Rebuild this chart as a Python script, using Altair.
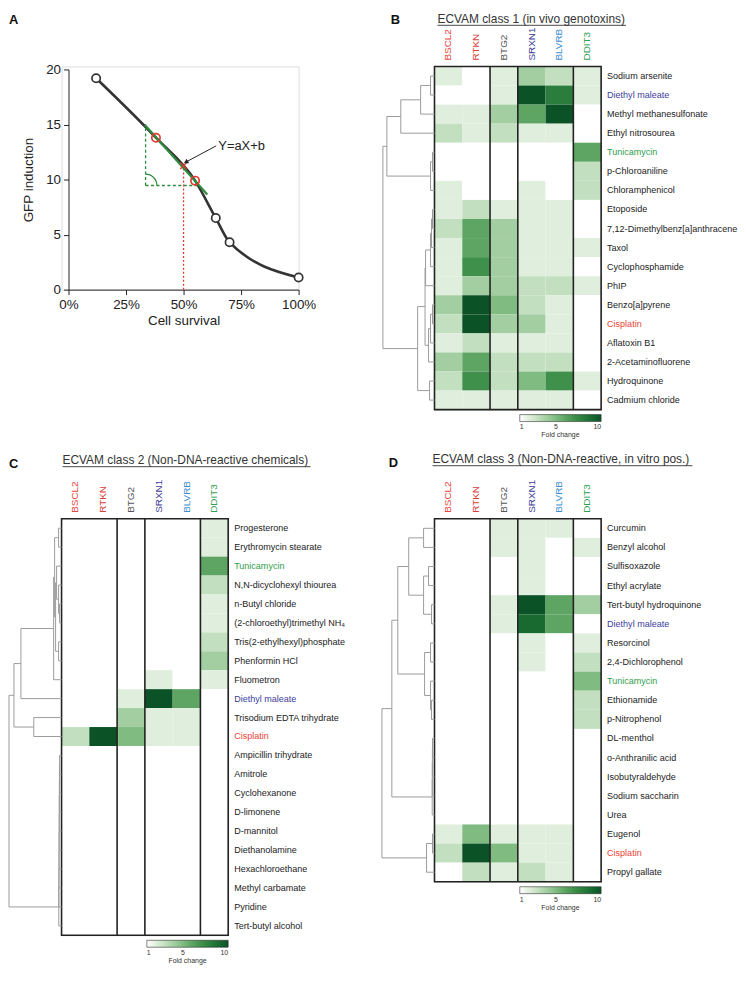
import math
import altair as alt
import pandas as pd

FONT = "Liberation Sans"

# ---------------- Panel A data ----------------
survival = [0.12, 0.38, 0.55, 0.64, 0.70, 1.00]
gfp = [19.2, 13.8, 9.9, 6.5, 4.3, 1.1]
point_kind = ["measured", "bracket", "bracket", "measured", "measured", "measured"]
tangent_x = [0.332, 0.603]
tangent_y = [14.95, 8.65]
corner_x, corner_y = 0.335, 9.46
corner_top_y = 15.0
corner_right_x = 0.56
ec50_x, ec50_y = 0.5, 11.26
arrow_tail = (0.642, 13.06)
arrow_head = (0.513, 11.62)
formula_label = "Y=aX+b"
formula_pos = (0.651, 13.06)
x_ticks = [0, 0.25, 0.5, 0.75, 1.0]
y_ticks = [0, 5, 10, 15, 20]

# ---------------- Heatmap data ----------------
genes = ["BSCL2", "RTKN", "BTG2", "SRXN1", "BLVRB", "DDIT3"]
gene_colors = ["#e8453c", "#d8403a", "#555555", "#3b3b96", "#3d8fd1", "#2fa052"]
group_starts = ["BTG2", "SRXN1", "DDIT3"]
highlight = {"Diethyl maleate": "#3d3d9c", "Tunicamycin": "#2e9d4c", "Cisplatin": "#ec3f33"}
fold_stops = [1, 2, 3, 4, 5, 6, 7, 8, 9, 10]
fold_colors = ["#ffffff", "#e0efdd", "#c2e0bf", "#a2cea1", "#80bb82",
               "#5ea564", "#3f904a", "#2a7d3c", "#186a31", "#0c5227"]

class1_chems = ["Sodium arsenite", "Diethyl maleate", "Methyl methanesulfonate", "Ethyl nitrosourea",
                "Tunicamycin", "p-Chloroaniline", "Chloramphenicol", "Etoposide",
                "7,12-Dimethylbenz[a]anthracene", "Taxol", "Cyclophosphamide", "PhIP",
                "Benzo[a]pyrene", "Cisplatin", "Aflatoxin B1", "2-Acetaminofluorene",
                "Hydroquinone", "Cadmium chloride"]
class1_values = [
    [2, 1, 2, 4, 3, 2], [1, 1, 2, 10, 8, 2], [2, 2, 4, 6, 10, 1], [3, 2, 3, 2, 2, 1],
    [1, 1, 1, 1, 1, 6], [1, 1, 1, 1, 1, 3], [2, 1, 1, 2, 1, 3], [2, 3, 2, 2, 2, 1],
    [3, 6, 4, 2, 2, 1], [2, 6, 4, 2, 2, 2], [2, 7, 4, 2, 2, 1], [2, 4, 4, 3, 3, 2],
    [4, 10, 5, 3, 2, 1], [3, 10, 4, 4, 2, 1], [2, 3, 2, 2, 2, 1], [4, 6, 3, 3, 3, 1],
    [3, 7, 3, 5, 7, 2], [2, 2, 2, 2, 2, 1]]
class1_links = [(0, 1, 4), (18, 2, 14), (19, 3, 34), (4, 5, 2), (21, 6, 4), (20, 22, 48),
                (7, 8, 2), (24, 9, 3), (25, 10, 4), (26, 11, 9), (12, 13, 2), (28, 14, 4),
                (29, 15, 6), (27, 30, 9.5), (16, 17, 5), (31, 32, 17), (23, 33, 52)]

class2_chems = ["Progesterone", "Erythromycin stearate", "Tunicamycin", "N,N-dicyclohexyl thiourea",
                "n-Butyl chloride", "(2-chloroethyl)trimethyl NH\u2084", "Tris(2-ethylhexyl)phosphate",
                "Phenformin HCl", "Fluometron", "Diethyl maleate", "Trisodium EDTA trihydrate",
                "Cisplatin", "Ampicillin trihydrate", "Amitrole", "Cyclohexanone", "D-limonene",
                "D-mannitol", "Diethanolamine", "Hexachloroethane", "Methyl carbamate",
                "Pyridine", "Tert-butyl alcohol"]
class2_values = [
    [1, 1, 1, 1, 1, 2], [1, 1, 1, 1, 1, 2], [1, 1, 1, 1, 1, 6], [1, 1, 1, 1, 1, 3],
    [1, 1, 1, 1, 1, 2], [1, 1, 1, 1, 1, 2], [1, 1, 1, 1, 1, 3], [1, 1, 1, 1, 1, 4],
    [1, 1, 1, 2, 1, 2], [1, 1, 2, 10, 6, 1], [1, 1, 4, 2, 2, 1], [3, 10, 5, 2, 2, 1],
    [1, 1, 1, 1, 1, 1], [1, 1, 1, 1, 1, 1], [1, 1, 1, 1, 1, 1], [1, 1, 1, 1, 1, 1],
    [1, 1, 1, 1, 1, 1], [1, 1, 1, 1, 1, 1], [1, 1, 1, 1, 1, 1], [1, 1, 1, 1, 1, 1],
    [1, 1, 1, 1, 1, 1], [1, 1, 1, 1, 1, 1]]
class2_links = [(0, 1, 3), (4, 5, 2), (3, 23, 3), (6, 7, 3), (2, 24, 5), (26, 25, 6),
                (22, 27, 7), (28, 8, 8), (29, 9, 41), (10, 11, 28), (30, 31, 48),
                (12, 13, 2.0), (33, 14, 2.1), (34, 15, 2.2), (35, 16, 2.3), (36, 17, 2.4),
                (37, 18, 2.5), (38, 19, 2.6), (39, 20, 2.7), (40, 21, 2.8), (32, 41, 53)]

class3_chems = ["Curcumin", "Benzyl alcohol", "Sulfisoxazole", "Ethyl acrylate",
                "Tert-butyl hydroquinone", "Diethyl maleate", "Resorcinol", "2,4-Dichlorophenol",
                "Tunicamycin", "Ethionamide", "p-Nitrophenol", "DL-menthol", "o-Anthranilic acid",
                "Isobutyraldehyde", "Sodium saccharin", "Urea", "Eugenol", "Cisplatin",
                "Propyl gallate"]
class3_values = [
    [1, 1, 2, 2, 2, 1], [1, 1, 2, 2, 1, 2], [1, 1, 1, 2, 1, 1], [1, 1, 1, 2, 1, 1],
    [1, 1, 2, 10, 6, 4], [1, 1, 2, 9, 6, 1], [1, 1, 1, 2, 1, 2], [1, 1, 1, 2, 1, 3],
    [1, 1, 1, 1, 1, 5], [1, 1, 1, 1, 1, 3], [1, 1, 1, 1, 1, 3], [1, 1, 1, 1, 1, 1],
    [1, 1, 1, 1, 1, 1], [1, 1, 1, 1, 1, 1], [1, 1, 1, 1, 1, 1], [1, 1, 1, 1, 1, 1],
    [2, 5, 2, 2, 2, 1], [3, 10, 5, 2, 2, 1], [1, 3, 2, 3, 2, 1]]
class3_links = [(0, 1, 11), (2, 3, 6), (4, 5, 3), (20, 21, 11), (19, 22, 26), (6, 7, 4),
                (9, 10, 3), (8, 25, 4), (24, 26, 10), (23, 27, 37), (11, 12, 2.0),
                (29, 13, 2.1), (30, 14, 2.2), (31, 15, 2.3), (28, 32, 43), (16, 17, 2),
                (34, 18, 8), (33, 35, 53)]


def dendro_segments(links, n):
    pos = {i: i + 0.5 for i in range(n)}
    hgt = {i: 0.0 for i in range(n)}
    segs = []
    for k, (a, b, h) in enumerate(links):
        node = n + k
        segs.append((h, h, pos[a], pos[b]))
        segs.append((hgt[a], h, pos[a], pos[a]))
        segs.append((hgt[b], h, pos[b], pos[b]))
        pos[node] = (pos[a] + pos[b]) / 2
        hgt[node] = h
    return pd.DataFrame(segs, columns=["h1", "h2", "p1", "p2"])


def one(**kw):
    return pd.DataFrame({k: [v] for k, v in kw.items()})


def heat_panel(chems, values, links, letter, letter_xy, title, title_x, title_y, title_w,
               H, dendro_w, W=168):
    n = len(chems)
    rows = []
    for c, vals in zip(chems, values):
        for g, v in zip(genes, vals):
            rows.append({"chem": c, "gene": g, "fold": v})
    df = pd.DataFrame(rows)
    xsc = alt.Scale(domain=genes, paddingInner=0, paddingOuter=0)
    ysc = alt.Scale(domain=chems, paddingInner=0, paddingOuter=0)
    xs = alt.X("gene:N", scale=xsc, axis=None)
    ys = alt.Y("chem:N", scale=ysc, axis=None)

    rect = alt.Chart(df).mark_rect(opacity=1, fillOpacity=1).encode(
        x=xs, y=ys,
        color=alt.Color("fold:Q",
                        scale=alt.Scale(type="linear", domain=fold_stops, range=fold_colors,
                                        interpolate="rgb", nice=False, zero=False, clamp=True),
                        legend=alt.Legend(orient="none", legendX=86, legendY=H + 5,
                                          direction="horizontal", gradientLength=82,
                                          gradientThickness=7, title="Fold change",
                                          titleOrient="bottom", titleAnchor="middle",
                                          titleFontSize=7, titleFontWeight="normal",
                                          titleFont=FONT, titleColor="#333", titlePadding=1,
                                          labelFontSize=7, labelFont=FONT, labelColor="#333",
                                          values=[1, 5, 10], gradientStrokeColor="#333",
                                          gradientStrokeWidth=0.6, labelOverlap=False)))
    border = alt.Chart(one(a=0)).mark_rect(fillOpacity=0, stroke="#222", strokeWidth=1.6).encode(
        x=alt.value(0), x2=alt.value(W), y=alt.value(0), y2=alt.value(H))
    seps = alt.Chart(pd.DataFrame({"gene": group_starts})).mark_rule(
        color="#222", strokeWidth=1.6).encode(
        x=alt.X("gene:N", scale=xsc, axis=None, bandPosition=0),
        y=alt.value(0), y2=alt.value(H))
    lab_df = pd.DataFrame({"chem": chems, "lc": [highlight.get(c, "#222222") for c in chems]})
    rowtext = alt.Chart(lab_df).mark_text(align="left", baseline="middle", font=FONT,
                                          fontSize=9.1).encode(
        y=ys, x=alt.value(W + 6), text="chem:N", fill=alt.Fill("lc:N", scale=None))
    gl_df = pd.DataFrame({"gene": genes, "gc": gene_colors})
    coltext = alt.Chart(gl_df).mark_text(angle=270, align="left", baseline="middle", font=FONT,
                                         fontSize=10).encode(
        x=xs, y=alt.value(-6), text="gene:N", fill=alt.Fill("gc:N", scale=None))
    ttl = alt.Chart(one(t=title)).mark_text(align="left", baseline="alphabetic", font=FONT,
                                            fontSize=12, color="#333").encode(
        text="t:N", x=alt.value(title_x), y=alt.value(title_y))
    uline = alt.Chart(one(a=0)).mark_rule(color="#333", strokeWidth=0.9).encode(
        x=alt.value(title_x), x2=alt.value(title_x + title_w), y=alt.value(title_y + 2.5))
    let = alt.Chart(one(t=letter)).mark_text(align="left", baseline="alphabetic", font=FONT,
                                             fontSize=13, fontWeight="bold", color="#111").encode(
        text="t:N", x=alt.value(letter_xy[0]), y=alt.value(letter_xy[1]))

    seg = dendro_segments(links, n)
    dend = alt.Chart(seg).mark_rule(color="#9b9b9b", strokeWidth=1).encode(
        x=alt.X("h1:Q", scale=alt.Scale(domain=[0, dendro_w], range=[0, -dendro_w],
                                        nice=False, zero=False), axis=None),
        x2="h2:Q",
        y=alt.Y("p1:Q", scale=alt.Scale(domain=[0, n], range=[0, H], nice=False, zero=False),
                axis=None),
        y2="p2:Q")

    inner = alt.layer(rect, seps, border, rowtext, coltext, ttl, uline, let)
    return alt.layer(inner, dend).resolve_scale(x="independent", y="independent").properties(
        width=W, height=H)


# ---------------- Panel A ----------------
WA, HA = 239, 225
sx = alt.Scale(domain=[0, 1], range=[7, WA], nice=False, zero=False)
sy = alt.Scale(domain=[0, 20], range=[HA, 3], nice=False, zero=False)
ax_common = dict(grid=False, domainColor="#222", tickColor="#222", tickSize=5,
                 labelFontSize=13.5, labelColor="#222", labelFont=FONT, titleFont=FONT,
                 titleFontSize=13.5, titleFontWeight="normal", titleColor="#222")
ax_x = alt.Axis(values=x_ticks, format=".0%", title="Cell survival", labelPadding=3,
                titlePadding=3, labelFlush=False, **ax_common)
ax_y = alt.Axis(values=y_ticks, title="GFP induction", offset=-7, labelPadding=3,
                titlePadding=10, **ax_common)


def XA(f="x"):
    return alt.X(f + ":Q", scale=sx, axis=ax_x)


def YA(f="y"):
    return alt.Y(f + ":Q", scale=sy, axis=ax_y)


GREEN = "#2e8b3e"
RED = "#e0392d"
df_curve = pd.DataFrame({"x": survival, "y": gfp, "kind": point_kind})
df_meas = df_curve[df_curve.kind == "measured"]
df_brk = df_curve[df_curve.kind == "bracket"]

curve = alt.Chart(df_curve).mark_line(interpolate="monotone", color="#333333",
                                      strokeWidth=2.6).encode(x=XA(), y=YA())
dash_df = pd.DataFrame({"x": [corner_x, corner_x], "y": [corner_y, corner_y],
                        "x2": [corner_x, corner_right_x], "y2": [corner_top_y, corner_y]})
dashes = alt.Chart(dash_df).mark_rule(color=GREEN, strokeWidth=1.3, strokeDash=[3, 2.5]).encode(
    x=XA(), y=YA(), x2="x2:Q", y2="y2:Q")
red_df = pd.DataFrame({"x": [ec50_x], "y": [0], "x2": [ec50_x], "y2": [ec50_y]})
reddot = alt.Chart(red_df).mark_rule(color=RED, strokeWidth=1.3, strokeDash=[2, 2]).encode(
    x=XA(), y=YA(), x2="x2:Q", y2="y2:Q")
arc = alt.Chart(one(x=corner_x, y=corner_y)).mark_arc(
    radius=12, radius2=10.8, theta=0, theta2=math.pi / 2, color=GREEN).encode(x=XA(), y=YA())
tangent = alt.Chart(pd.DataFrame({"x": tangent_x, "y": tangent_y})).mark_line(
    color=GREEN, strokeWidth=2.2).encode(x=XA(), y=YA())
meas = alt.Chart(df_meas).mark_point(filled=True, fill="white", stroke="#333", strokeWidth=1.7,
                                     size=70, opacity=1).encode(x=XA(), y=YA())
brk = alt.Chart(df_brk).mark_point(filled=False, stroke=RED, strokeWidth=1.7, size=70,
                                   opacity=1).encode(x=XA(), y=YA())
xmark = alt.Chart(one(x=ec50_x, y=ec50_y)).mark_point(
    shape="M-1,-1L1,1M1,-1L-1,1", filled=False, stroke=RED, strokeWidth=1.3, size=45,
    opacity=1).encode(x=XA(), y=YA())
arr_df = pd.DataFrame({"x": [arrow_tail[0]], "y": [arrow_tail[1]],
                       "x2": [arrow_head[0]], "y2": [arrow_head[1]]})
arrow = alt.Chart(arr_df).mark_rule(color="#222", strokeWidth=1).encode(
    x=XA(), y=YA(), x2="x2:Q", y2="y2:Q")
head = alt.Chart(one(x=arrow_head[0], y=arrow_head[1])).mark_point(
    shape="triangle", filled=True, color="#222", size=28, angle=242, opacity=1).encode(
    x=XA(), y=YA())
formula = alt.Chart(one(x=formula_pos[0], y=formula_pos[1], t=formula_label)).mark_text(
    align="left", baseline="middle", font=FONT, fontSize=13, color="#222").encode(
    x=XA(), y=YA(), text="t:N")
letA = alt.Chart(one(t="A")).mark_text(align="left", baseline="alphabetic", font=FONT,
                                       fontSize=13, fontWeight="bold", color="#111").encode(
    text="t:N", x=alt.value(-53), y=alt.value(-43))

panelA = alt.layer(curve, dashes, reddot, arc, tangent, meas, brk, xmark, arrow, head,
                   formula, letA).properties(width=WA, height=HA)

panelB = heat_panel(class1_chems, class1_values, class1_links, "B", (-44, -43),
                    "ECVAM class 1 (in vivo genotoxins)", 3, -44, 190, 346, 52)
panelC = heat_panel(class2_chems, class2_values, class2_links, "C", (-53, -51),
                    "ECVAM class 2 (Non-DNA-reactive chemicals)", 1, -55, 250, 420, 53)
panelD = heat_panel(class3_chems, class3_values, class3_links, "D", (-46, -52),
                    "ECVAM class 3 (Non-DNA-reactive, in vitro pos.)", -2, -56, 262, 366, 53)

chart = alt.concat(panelA, panelB, panelC, panelD, columns=2,
                   spacing=alt.RowColnumber(row=110, column=137),
                   bounds="flush", align="each").resolve_scale(
    color="independent").properties(padding=0).configure_view(strokeWidth=0).configure(
    font=FONT)

chart.save("out.html", embed_options={"renderer": "svg", "actions": False})
